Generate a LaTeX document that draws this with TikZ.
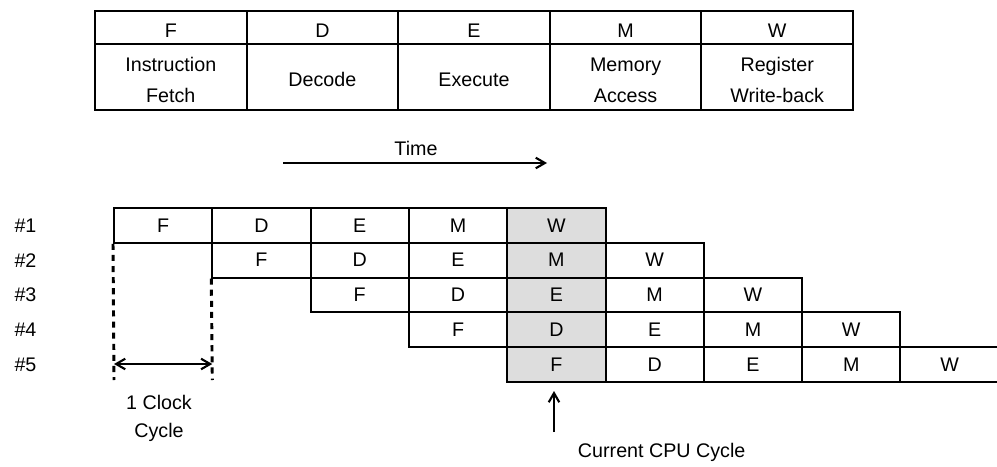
\documentclass[tikz,border=0pt]{standalone}
\usepackage{fontspec}
\setmainfont{Liberation Sans}
\usetikzlibrary{arrows.meta}

\definecolor{curcycle}{RGB}{221,221,221}

\tikzset{
  stagehead/.style={draw, line width=1.4pt, inner sep=0pt, minimum width=3.79cm, minimum height=0.825cm},
  stagedesc/.style={stagehead, minimum height=1.65cm},
  stagetext/.style={align=center, yshift=-2.1pt, font=\fontsize{14}{22}\selectfont},
  pipecell/.style={draw, line width=1.4pt, inner sep=0pt, minimum width=2.4575cm, minimum height=0.87cm},
  barb/.style={line width=1.5pt, -{Straight Barb[length=6.5pt,width=7.5pt]}},
  clockline/.style={line width=2.1pt, dash pattern=on 4.3pt off 3.6pt}
}

\begin{document}
\begin{tikzpicture}[x=0.025cm, y=-0.025cm, font=\fontsize{14}{20}\selectfont]
  \useasboundingbox (0,0) rectangle (997,466);

  % Stages
  \foreach \s/\d [count=\i from 0] in {F/{Instruction\\Fetch}, D/Decode, E/Execute, M/{Memory\\Access}, W/{Register\\Write-back}} {
    \node[stagehead] (h\s) at (95+151.6*\i+75.8, 27.5) {};
    \node[stagedesc] (d\s) at (95+151.6*\i+75.8, 77) {};
    \node[stagetext] (hl\s) at (h\s) {\s};
    \node[stagetext] (dl\s) at (d\s) {\d};
  }

  % Time
  \node (time) at (416,148) {Time};
  \coordinate (t0) at (283,163);
  \coordinate (t1) at (547,163);
  \draw[barb] (t0) -- (t1);

  % Pipeline
  \foreach \r in {1,...,5} {
    \node (n\r) at (25.5, 208+34.8*\r-17.4) {\#\r};
    \foreach \s [count=\k from 0] in {F,D,E,M,W} {
      \pgfmathtruncatemacro\c{\r-1+\k}
      \ifnum\c=4 \def\cellfill{curcycle}\else\def\cellfill{none}\fi
      \node[pipecell, fill=\cellfill] (c\r-\c) at (114+98.3*\c+49.15, 208+34.8*\r-17.4) {\s};
    }
  }

  % Clock cycle
  \coordinate (k0) at (114,380);
  \coordinate (k1) at (212.3,380);
  \draw[clockline] (c1-0.south west) -- (k0);
  \draw[clockline] (c2-1.south west) -- (k1);
  \coordinate (a0) at (114,364);
  \coordinate (a1) at (212.3,364);
  \draw[barb, {Straight Barb[length=6.5pt,width=7.5pt]}-{Straight Barb[length=6.5pt,width=7.5pt]}] (a0) -- (a1);
  \node[align=center] (clk) at (159,418) {1 Clock\\Cycle};

  % Current cycle
  \node[anchor=west] (cpu) at (573,452) {Current CPU Cycle};
  \coordinate (p0) at (554,432);
  \draw[barb, shorten >=5.7pt] (p0) -- (p0 |- c5-4.south);
\end{tikzpicture}
\end{document}
